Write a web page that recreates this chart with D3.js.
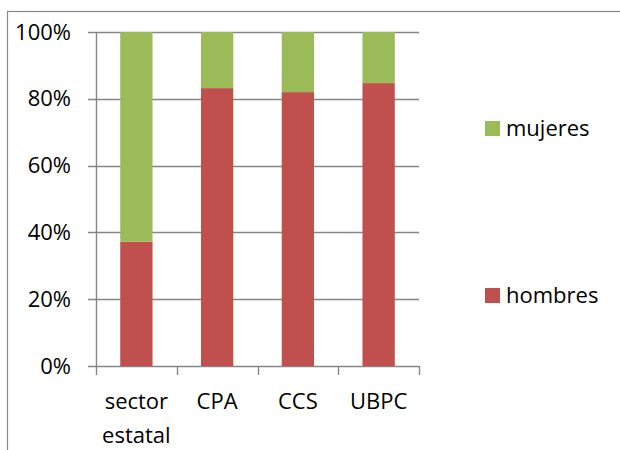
<!DOCTYPE html>
<html>
<head>
<meta charset="utf-8">
<script src="https://cdn.jsdelivr.net/npm/d3@7"></script>
<style>
  html, body { margin: 0; padding: 0; background: #fff; }
  svg { display: block; }
  text { font-family: "Open Sans", sans-serif; font-size: 22px; fill: #000; }
</style>
</head>
<body>
<svg id="chart" width="620" height="450"></svg>
<script>
const categories = ["sector estatal", "CPA", "CCS", "UBPC"];
const hombres = [37.2, 83.2, 82.0, 84.7];
const mujeres = [62.8, 16.8, 18.0, 15.3];
const seriesNames = ["hombres", "mujeres"];
const yTicks = [0, 0.2, 0.4, 0.6, 0.8, 1.0];

const colors = { hombres: "#C0504D", mujeres: "#9BBB59" };
const gridColor = "#868686";

const svg = d3.select("#chart");

// outer frame (extends past right/bottom edge)
svg.append("rect")
  .attr("x", 7.5).attr("y", 11.5)
  .attr("width", 640).attr("height", 460)
  .attr("fill", "none").attr("stroke", "#8a8a8a").attr("stroke-width", 1.2);

const rows = categories.map((c, i) => ({ cat: c, hombres: hombres[i], mujeres: mujeres[i] }));

const x = d3.scaleBand().domain(categories).range([96, 419]).paddingInner(0.6).paddingOuter(0.3);
const y = d3.scaleLinear().domain([0, 1]).range([366, 32]);

// gridlines
svg.append("g").selectAll("line").data(yTicks).join("line")
  .attr("x1", 88).attr("x2", 419)
  .attr("y1", d => Math.round(y(d)) + 0.5).attr("y2", d => Math.round(y(d)) + 0.5)
  .attr("stroke", gridColor).attr("stroke-width", 1.4);

// y axis labels
const yAxis = svg.append("g").attr("transform", "translate(96,0)")
  .call(d3.axisLeft(y).tickValues(yTicks).tickFormat(d3.format(".0%")).tickSize(0).tickPadding(25));
yAxis.select(".domain").remove();
yAxis.selectAll("text").style("font-family", "'Open Sans', sans-serif").style("font-size", "22px").attr("fill", "#000");

// stacked bars
const stack = d3.stack().keys(seriesNames).offset(d3.stackOffsetExpand);
const stacked = stack(rows);
svg.append("g").selectAll("g").data(stacked).join("g")
  .attr("fill", s => colors[s.key])
  .selectAll("rect").data(s => s).join("rect")
  .attr("x", d => x(d.data.cat))
  .attr("width", x.bandwidth())
  .attr("y", d => y(d[1]))
  .attr("height", d => y(d[0]) - y(d[1]));

// vertical axis line
svg.append("line")
  .attr("x1", 96.5).attr("x2", 96.5)
  .attr("y1", y(1)).attr("y2", y(0) + 1)
  .attr("stroke", gridColor).attr("stroke-width", 1.4);

// category boundary ticks
const step = x.step();
const bounds = categories.map(c => x(c) - (step - x.bandwidth()) / 2);
bounds.push(bounds[bounds.length - 1] + step);
svg.append("g").selectAll("line").data(bounds).join("line")
  .attr("x1", d => Math.round(d) + 0.5).attr("x2", d => Math.round(d) + 0.5)
  .attr("y1", y(0)).attr("y2", y(0) + 9)
  .attr("stroke", gridColor).attr("stroke-width", 1.4);

// x axis labels
const xl = svg.append("g").selectAll("text").data(categories).join("text")
  .attr("text-anchor", "middle")
  .attr("x", d => x(d) + x.bandwidth() / 2)
  .attr("y", 409);
xl.each(function(d) {
  const words = d.split(" ");
  const t = d3.select(this);
  words.forEach((w, i) => {
    t.append("tspan").attr("x", x(d) + x.bandwidth() / 2).attr("y", 409 + i * 34).text(w);
  });
});

// legend
const legendItems = [
  { key: "mujeres", y: 121 },
  { key: "hombres", y: 288 }
];
const lg = svg.append("g").selectAll("g").data(legendItems).join("g");
lg.append("rect").attr("x", 485).attr("y", d => d.y).attr("width", 15).attr("height", 15)
  .attr("fill", d => colors[d.key]);
lg.append("text").attr("x", 506).attr("y", d => d.y + 15).text(d => d.key);
</script>
</body>
</html>
